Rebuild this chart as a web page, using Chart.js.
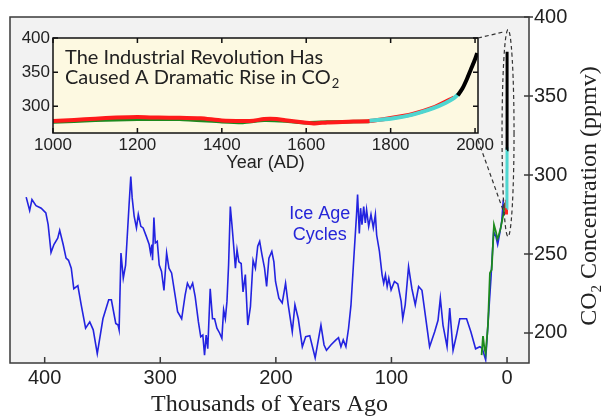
<!DOCTYPE html>
<html>
<head>
<meta charset="utf-8">
<script src="https://cdn.jsdelivr.net/npm/chart.js@4.4.0/dist/chart.umd.min.js"></script>
<style>
  html, body { margin: 0; padding: 0; background: #fff; }
  #wrap { position: relative; width: 601px; height: 416px; }
  #wrap canvas { position: absolute; left: 0; top: 0; }
</style>
</head>
<body>
<div id="wrap">
  <canvas id="mainChart" width="601" height="416"></canvas>
  <canvas id="insetChart" width="601" height="416"></canvas>
</div>
<script>
// Vostok-style ice core record: thousands of years ago vs CO2 (ppmv)
const iceAgeKy = [416, 413, 411, 407.5, 403, 399, 397, 394.5, 392, 388.7, 387, 384, 381.5, 379.4, 377, 374.8, 371.3, 368.4, 364.6, 361, 358, 354.5, 349.6, 344.6, 342.3, 338.5, 336.5, 335.6, 334, 332, 330, 327, 325.5, 324.3, 322.6, 320.6, 319, 316.8, 314.8, 312, 309.6, 308.4, 307.2, 306.7, 305.5, 304.3, 302.6, 300.9, 298.9, 296.8, 294.5, 292.5, 290.2, 287.2, 285, 281.5, 278.5, 276.5, 274.2, 272, 269.8, 267, 265, 263.2, 261.7, 260.3, 258.9, 256.8, 254.8, 253, 251, 248.7, 246.7, 245.2, 243.7, 242.3, 240.9, 239.4, 238, 236, 235, 233.6, 232, 230, 228.4, 226.4, 224.3, 222, 219.7, 217.7, 215.7, 214, 212, 209.8, 208, 206, 203.5, 201.7, 200.3, 197.4, 194.5, 191.6, 189.3, 185.8, 183.5, 180.6, 177.1, 174.2, 170.7, 166, 161, 158.3, 156.2, 152.4, 148, 145.8, 143.7, 141.7, 139.4, 137.1, 135, 132.2, 130.2, 129.3, 127.8, 126.7, 125.5, 124, 122.6, 121.5, 119.7, 117.7, 115.7, 113.9, 112.8, 110.4, 108.1, 106.7, 105.2, 103.7, 102.3, 100.3, 97.4, 94.5, 91.6, 90.2, 88.1, 85.2, 82.3, 79.4, 76.5, 73.6, 67, 62.6, 59.7, 57.7, 55.4, 51.9, 49.6, 46.7, 43.7, 40.9, 35, 31.3, 27.2, 23.5, 21.5, 18.5, 16.2, 13.9, 11.6, 9.6, 8.1, 6.1, 4.6, 3.2];
const iceAgeCo2 = [286, 277.5, 284.5, 280.6, 279, 276, 268.6, 251, 256, 260, 265, 256, 247.4, 246, 241, 228, 230, 217.8, 203, 207, 202, 187, 209, 221, 221, 206, 205, 202, 250.6, 234.7, 243, 281, 299, 285.5, 274, 266.5, 275, 267.5, 266.5, 261, 256, 250.6, 256, 246, 273, 257, 258, 243, 239, 227, 250.6, 241, 238, 224, 213.5, 209, 224, 231.5, 228, 231.5, 223, 207, 197.6, 198.7, 186, 198.7, 190, 228, 209, 209, 203, 200, 196.6, 214.6, 209, 220, 243, 280, 268.6, 250.6, 241, 252.7, 245, 244, 226, 237, 205, 216.7, 246, 241, 255, 258, 249.5, 241, 229.4, 247.4, 251.6, 245, 232.6, 222, 219, 231.5, 217.8, 200.8, 217.8, 209, 191.3, 197.6, 198.3, 184.3, 205, 192.4, 189, 192.4, 195.6, 197, 191.3, 195.6, 191.3, 203, 217.8, 251.6, 275, 287.6, 263, 279, 268.6, 280, 269.6, 278, 267.5, 275, 266.5, 275, 262, 251.6, 236.8, 231.5, 236.8, 229.4, 234.7, 227.3, 232.6, 231, 220, 209, 217.8, 242, 228, 217.8, 229.4, 227, 191.3, 200.8, 208, 222, 205, 191.3, 215.7, 189, 198.7, 209, 209, 200.8, 190, 191.3, 190.3, 183, 209, 234.7, 264, 261, 256, 264, 270.6, 284.5];

// Holocene / deglaciation record (green)
const domeKy = [22, 20.8, 19.5, 18.5, 16.5, 14.8, 13.3, 11.3, 9.6, 8.4, 7.5, 5.5, 3.2, 1.7];
const domeCo2 = [186, 198, 190, 187, 205, 238, 240, 268.6, 264, 259.6, 261, 266.5, 275, 282.5];

// Last millennium (inset), years AD
const redYears = [1000, 1050, 1100, 1150, 1200, 1250, 1300, 1350, 1400, 1450, 1475, 1500, 1530, 1550, 1600, 1620, 1650, 1700, 1750, 1800, 1850, 1900, 1950];
const redCo2 = [278.5, 280, 282, 283.5, 284.3, 283.5, 283.4, 282.5, 279.4, 278.6, 279, 281.5, 281.5, 279.5, 276, 275, 276.5, 277.5, 278.6, 283, 288.5, 298, 313];
const greenYears = [1000, 1100, 1200, 1300, 1400, 1450, 1500, 1550, 1600, 1650, 1700, 1750];
const greenCo2 = [277, 279.5, 281, 281, 277.5, 276.5, 279.5, 278.5, 276, 277, 277.5, 278];
const lawDomeYears = [1750, 1800, 1850, 1900, 1930, 1950, 1960];
const lawDomeCo2 = [279, 282, 287.5, 297, 305, 312, 317.5];
const maunaLoaYears = [1959, 1970, 1980, 1990, 2000, 2005];
const maunaLoaCo2 = [316, 326, 339, 354, 369, 378];

const mainXTicks = [400, 300, 200, 100, 0];
const mainYTicks = [200, 250, 300, 350, 400];
const insetXTicks = [1000, 1200, 1400, 1600, 1800, 2000];
const insetYTicks = [300, 350, 400];

const SANS = '"Liberation Sans", Arial, sans-serif';
const SERIF = '"Liberation Serif", "Times New Roman", serif';

function toPoints(xs, ys) {
    return xs.map((x, i) => ({ x: x, y: ys[i] }));
}
// years AD -> thousands of years before 1950
function yearsToKy(years) {
    return years.map(y => (1950 - y) / 1000);
}

// draws a string made of parts, some of them subscripts, centred on (0,0)
function drawParts(ctx, parts, size, family, color) {
    const subSize = Math.round(size * 0.62);
    let total = 0;
    parts.forEach(p => {
        ctx.font = (p.sub ? subSize : size) + 'px ' + family;
        p.w = ctx.measureText(p.t).width;
        total += p.w;
    });
    let x = -total / 2;
    ctx.fillStyle = color;
    ctx.textBaseline = 'alphabetic';
    ctx.textAlign = 'left';
    parts.forEach(p => {
        ctx.font = (p.sub ? subSize : size) + 'px ' + family;
        ctx.fillText(p.t, x, p.sub ? size * 0.55 : size * 0.35);
        x += p.w;
    });
}

const mainDecor = {
    id: 'mainDecor',
    beforeDraw(chart) {
        const { ctx, chartArea: a } = chart;
        ctx.save();
        ctx.fillStyle = '#ffffff';
        ctx.fillRect(0, 0, chart.width, chart.height);
        ctx.fillStyle = '#f2f2f2';
        ctx.fillRect(a.left, a.top, a.right - a.left, a.bottom - a.top);
        ctx.restore();
    },
    afterDraw(chart) {
        const { ctx, chartArea: a, scales } = chart;
        ctx.save();
        ctx.strokeStyle = '#3a3a3a';
        ctx.lineWidth = 1.5;
        ctx.strokeRect(a.left, a.top, a.right - a.left, a.bottom - a.top);
        ctx.beginPath();
        mainXTicks.forEach(v => {
            const x = scales.x.getPixelForValue(v);
            ctx.moveTo(x, a.bottom);
            ctx.lineTo(x, a.bottom - 6);
        });
        mainYTicks.forEach(v => {
            const y = scales.y.getPixelForValue(v);
            ctx.moveTo(a.right - 5, y);
            ctx.lineTo(a.right + 4, y);
        });
        ctx.stroke();

        // axis titles
        ctx.save();
        ctx.translate((a.left + a.right) / 2, 403);
        drawParts(ctx, [{ t: 'Thousands of Years Ago' }], 24, SERIF, '#222');
        ctx.restore();

        ctx.save();
        ctx.translate(588, (a.top + a.bottom) / 2 + 6);
        ctx.rotate(-Math.PI / 2);
        drawParts(ctx, [{ t: 'CO' }, { t: '2', sub: true }, { t: ' Concentration (ppmv)' }], 24, SERIF, '#222');
        ctx.restore();

        // series label
        ctx.fillStyle = '#2525d8';
        ctx.font = '18px ' + SANS;
        ctx.textAlign = 'center';
        ctx.textBaseline = 'middle';
        const lx = scales.x.getPixelForValue(162);
        ctx.fillText('Ice Age', lx, scales.y.getPixelForValue(275.5));
        ctx.fillText('Cycles', lx, scales.y.getPixelForValue(262));
        ctx.restore();
    }
};

// pre-industrial part of the red record only shows as a dot at the modern end
const preIndustrialYears = redYears.filter(y => y <= 1750);
const preIndustrialCo2 = redCo2.slice(0, preIndustrialYears.length);

const mainChart = new Chart(document.getElementById('mainChart'), {
    type: 'scatter',
    data: {
        datasets: [
            { data: toPoints(yearsToKy(maunaLoaYears), maunaLoaCo2), borderColor: '#000000', borderWidth: 3 },
            { data: toPoints(yearsToKy(lawDomeYears), lawDomeCo2), borderColor: '#4fd6d0', borderWidth: 3 },
            { data: toPoints(yearsToKy(preIndustrialYears), preIndustrialCo2), borderColor: '#ff2020', borderWidth: 3 },
            { data: toPoints(domeKy, domeCo2), borderColor: '#1d8a1d', borderWidth: 1.8 },
            { data: toPoints(iceAgeKy, iceAgeCo2), borderColor: '#2323e0', borderWidth: 1.6 }
        ]
    },
    options: {
        responsive: false,
        animation: false,
        showLine: true,
        layout: { padding: { left: 10, top: 16, right: 0, bottom: 0 } },
        elements: { point: { radius: 0, hoverRadius: 0 }, line: { tension: 0, fill: false } },
        plugins: { legend: { display: false }, tooltip: { enabled: false } },
        scales: {
            x: {
                type: 'linear', reverse: true, min: -19, max: 430,
                afterBuildTicks: s => { s.ticks = mainXTicks.map(v => ({ value: v })); },
                afterFit: s => { s.height = 53; },
                grid: { display: false, drawTicks: false },
                border: { display: false },
                ticks: { font: { family: SANS, size: 20 }, color: '#222', padding: 3, maxRotation: 0, callback: v => String(v) }
            },
            y: {
                type: 'linear', position: 'right', min: 181, max: 400,
                afterBuildTicks: s => { s.ticks = mainYTicks.map(v => ({ value: v })); },
                afterFit: s => { s.width = 72; },
                grid: { display: false, drawTicks: false },
                border: { display: false },
                ticks: { font: { family: SANS, size: 20 }, color: '#222', padding: 5, callback: v => String(v) }
            }
        }
    },
    plugins: [mainDecor]
});

const insetDecor = {
    id: 'insetDecor',
    beforeDatasetsDraw(chart) {
        const { ctx, chartArea: a } = chart;
        ctx.save();
        ctx.fillStyle = '#fdf9e1';
        ctx.fillRect(a.left, a.top, a.right - a.left, a.bottom - a.top);
        ctx.restore();
    },
    afterDraw(chart) {
        const { ctx, chartArea: a, scales } = chart;
        ctx.save();
        ctx.strokeStyle = '#111';
        ctx.lineWidth = 1.5;
        ctx.strokeRect(a.left, a.top, a.right - a.left, a.bottom - a.top);
        ctx.beginPath();
        insetXTicks.forEach(v => {
            const x = scales.x.getPixelForValue(v);
            ctx.moveTo(x, a.bottom); ctx.lineTo(x, a.bottom - 5);
            ctx.moveTo(x, a.top); ctx.lineTo(x, a.top + 5);
        });
        insetYTicks.forEach(v => {
            const y = scales.y.getPixelForValue(v);
            ctx.moveTo(a.left, y); ctx.lineTo(a.left + 5, y);
            ctx.moveTo(a.right, y); ctx.lineTo(a.right - 5, y);
        });
        ctx.stroke();

        // caption
        ctx.fillStyle = '#222';
        ctx.font = '20px Lato, "Open Sans", sans-serif';
        ctx.textAlign = 'left';
        ctx.textBaseline = 'middle';
        ctx.fillText('The Industrial Revolution Has', a.left + 12, a.top + 20);
        const line2 = 'Caused A Dramatic Rise in CO';
        ctx.fillText(line2, a.left + 12, a.top + 40);
        const w2 = ctx.measureText(line2).width;
        ctx.font = '13px Lato, "Open Sans", sans-serif';
        ctx.fillText('2', a.left + 13 + w2, a.top + 46);

        // axis title
        ctx.font = '18px ' + SANS;
        ctx.textAlign = 'center';
        ctx.fillText('Year (AD)', (a.left + a.right) / 2, a.bottom + 30);

        // zoom outline linking the inset to the modern end of the main record
        const xs = mainChart.scales.x, ys = mainChart.scales.y;
        const cx = xs.getPixelForValue(0) + 1;
        const top = ys.getPixelForValue(392);
        const bot = ys.getPixelForValue(261);
        ctx.strokeStyle = '#333';
        ctx.lineWidth = 1.2;
        ctx.setLineDash([4, 3]);
        ctx.beginPath();
        ctx.ellipse(cx, (top + bot) / 2, 6, (bot - top) / 2, 0, 0, Math.PI * 2);
        ctx.stroke();
        ctx.beginPath();
        ctx.moveTo(a.right, a.top);
        ctx.lineTo(cx - 3, top + 2);
        ctx.moveTo(a.right, a.bottom + 7);
        ctx.lineTo(cx - 4, ys.getPixelForValue(276));
        ctx.stroke();
        ctx.restore();
    }
};

new Chart(document.getElementById('insetChart'), {
    type: 'scatter',
    data: {
        datasets: [
            { data: toPoints(maunaLoaYears, maunaLoaCo2), borderColor: '#000000', borderWidth: 4 },
            { data: toPoints(lawDomeYears, lawDomeCo2), borderColor: '#4fd6d0', borderWidth: 4 },
            { data: toPoints(redYears, redCo2), borderColor: '#ff1a1a', borderWidth: 4 },
            { data: toPoints(greenYears, greenCo2), borderColor: '#1d8a1d', borderWidth: 3.5 }
        ]
    },
    options: {
        responsive: false,
        animation: false,
        showLine: true,
        layout: { padding: { left: 0, top: 38, right: 123, bottom: 243 } },
        elements: { point: { radius: 0, hoverRadius: 0 }, line: { tension: 0.2, fill: false } },
        plugins: { legend: { display: false }, tooltip: { enabled: false } },
        scales: {
            x: {
                type: 'linear', min: 1000, max: 2007,
                afterBuildTicks: s => { s.ticks = insetXTicks.map(v => ({ value: v })); },
                afterFit: s => { s.height = 40; },
                grid: { display: false, drawTicks: false },
                border: { display: false },
                ticks: { font: { family: SANS, size: 17 }, color: '#222', padding: 2, maxRotation: 0, callback: v => String(v) }
            },
            y: {
                type: 'linear', min: 261, max: 400,
                afterBuildTicks: s => { s.ticks = insetYTicks.map(v => ({ value: v })); },
                afterFit: s => { s.width = 53; },
                grid: { display: false, drawTicks: false },
                border: { display: false },
                ticks: { font: { family: SANS, size: 17 }, color: '#222', padding: 3, callback: v => String(v) }
            }
        }
    },
    plugins: [insetDecor]
});
</script>
</body>
</html>
